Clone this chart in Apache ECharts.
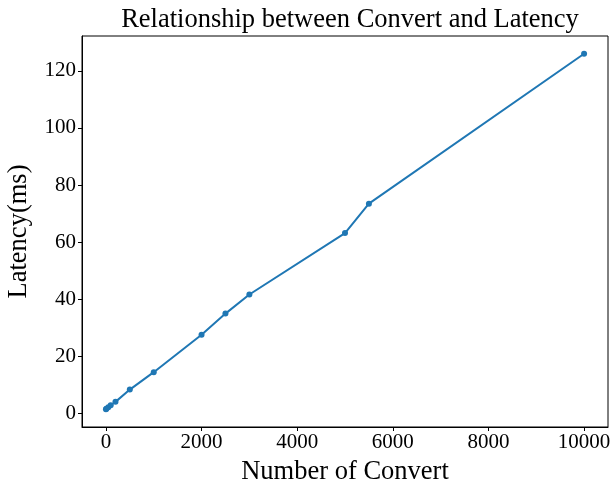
<!DOCTYPE html>
<html><head><meta charset="utf-8">
<script src="https://cdn.jsdelivr.net/npm/echarts@6/dist/echarts.min.js"></script>
<style>html,body{margin:0;padding:0;background:#fff}#c{width:611px;height:489px}</style>
</head><body><div id="c"></div>
<script>
const converts = [1, 10, 50, 100, 200, 500, 1000, 2000, 2500, 3000, 5000, 5500, 10000];
const latency = [1.5, 1.7, 2.2, 2.9, 4.1, 8.4, 14.5, 27.6, 35.0, 41.7, 63.2, 73.5, 126.0];
const xTicks = [0, 2000, 4000, 6000, 8000, 10000];
const yTicks = [0, 20, 40, 60, 80, 100, 120];

const font = 'Liberation Serif, Times New Roman, serif';
const chart = echarts.init(document.getElementById('c'), null, {renderer: 'canvas'});
chart.setOption({
  animation: false,
  title: {
    text: 'Relationship between Convert and Latency',
    left: 345, top: 2, textAlign: 'center',
    textStyle: {fontFamily: font, fontSize: 26.5, fontWeight: 'normal', color: '#000'}
  },
  grid: {left: 82, right: 3, top: 36, bottom: 62, outerBoundsMode: 'none', containLabel: false,
         show: true, borderColor: '#000', borderWidth: 1, backgroundColor: 'transparent'},
  xAxis: {
    type: 'value', min: -500, max: 10500,
    name: 'Number of Convert', nameLocation: 'middle', nameGap: 32,
    nameTextStyle: {fontFamily: font, fontSize: 26.5, color: '#000'},
    splitLine: {show: false},
    axisLine: {show: true, onZero: false, lineStyle: {color: '#000'}},
    axisTick: {show: true, length: 4, customValues: xTicks, lineStyle: {color: '#000'}},
    axisLabel: {customValues: xTicks, formatter: v => String(v), fontFamily: font, fontSize: 21, color: '#000', margin: 5}
  },
  yAxis: {
    type: 'value', min: -4.7, max: 132.2,
    name: 'Latency(ms)', nameLocation: 'middle', nameGap: 49, nameRotate: 90,
    nameTextStyle: {fontFamily: font, fontSize: 26.5, color: '#000'},
    splitLine: {show: false},
    axisLine: {show: true, onZero: false, lineStyle: {color: '#000'}},
    axisTick: {show: true, length: 4, customValues: yTicks, lineStyle: {color: '#000'}},
    axisLabel: {customValues: yTicks, formatter: v => String(v), fontFamily: font, fontSize: 21, color: '#000', margin: 6}
  },
  series: [{
    type: 'line',
    data: converts.map((c, i) => [c, latency[i]]),
    symbol: 'circle', symbolSize: 6,
    itemStyle: {color: '#1f77b4'},
    lineStyle: {color: '#1f77b4', width: 2}
  }]
});
</script></body></html>
